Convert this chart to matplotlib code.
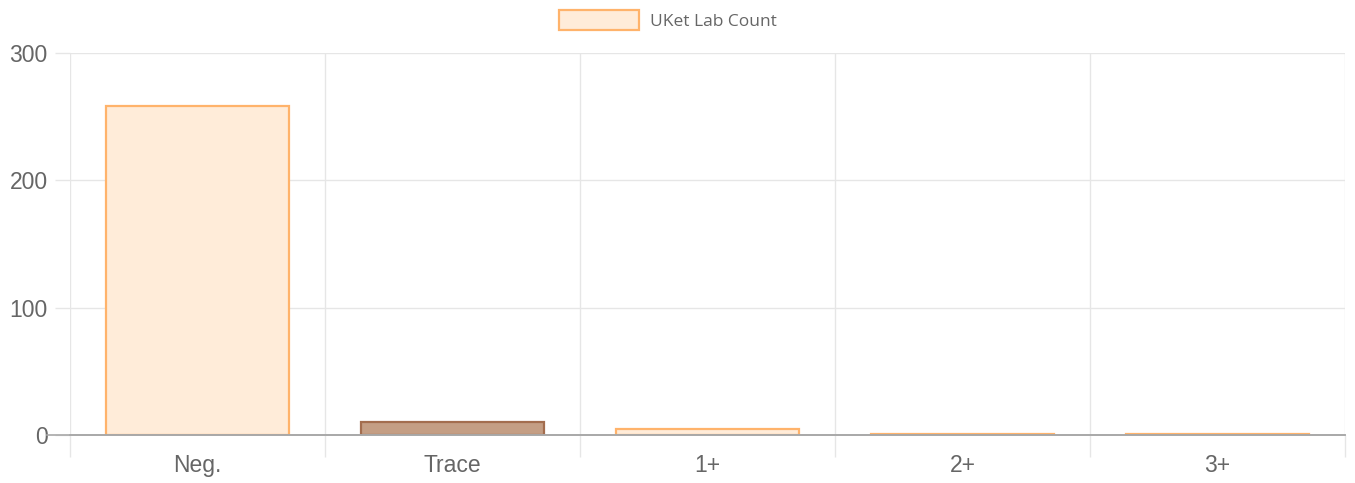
import numpy as np
import matplotlib.pyplot as plt
from matplotlib.patches import Patch

categories = ['Neg.', 'Trace', '1+', '2+', '3+']
counts = [258, 10, 5, 1, 1]
y_ticks = [0, 100, 200, 300]

fill = '#FFECD9'
edge = '#FFB36B'
fills = [fill, '#C49E84', fill, fill, fill]
edges = [edge, '#A36D4E', edge, edge, edge]
grid_color = '#E6E6E6'
text_color = '#666666'

fig = plt.figure(figsize=(13.55, 4.83), dpi=100)
ax = fig.add_axes([70 / 1355, 1 - 435 / 483, 1275 / 1355, 382 / 483])

x = np.arange(len(categories))
ax.bar(x, counts, width=0.714, color=fills, edgecolor=edges, linewidth=1.6, zorder=3)

ax.set_xlim(-0.5, len(categories) - 0.5)
ax.set_ylim(0, 300)

tick_font = {'family': 'Liberation Sans', 'size': 16.5, 'stretch': 'expanded'}
ax.set_xticks(x)
ax.set_xticklabels(categories, color=text_color, fontdict=tick_font)
ax.set_xticks(np.arange(-0.5, len(categories)), minor=True)
ax.tick_params(axis='x', which='major', length=0, pad=14)
ax.tick_params(axis='x', which='minor', length=16, color=grid_color, width=1)
ax.grid(axis='x', which='minor', color=grid_color, linewidth=1, zorder=0)

ax.set_yticks(y_ticks)
ax.set_yticklabels([str(v) for v in y_ticks], color=text_color, fontdict=tick_font)
ax.tick_params(axis='y', length=11, color=grid_color, width=1, pad=5)
ax.grid(axis='y', color=grid_color, linewidth=1, zorder=0)

for s in ['top', 'right', 'left']:
    ax.spines[s].set_visible(False)
ax.spines['bottom'].set_color('#A8A8A8')
ax.spines['bottom'].set_linewidth(1.2)
ax.spines['bottom'].set_zorder(4)
ax.axhline(0, xmin=-0.018, xmax=1, color='#A8A8A8', linewidth=1.2, clip_on=False, zorder=4)

handle = Patch(facecolor=fill, edgecolor=edge, linewidth=1.6)
fig.legend([handle], ['UKet Lab Count'], loc='upper center', bbox_to_anchor=(0.493, 1.012),
           frameon=False, handlelength=4.6, handleheight=1.45, borderaxespad=0.5,
           handletextpad=0.6, labelcolor=text_color,
           prop={'family': 'Open Sans', 'size': 12.5})

fig.savefig('out.png', dpi=100)
